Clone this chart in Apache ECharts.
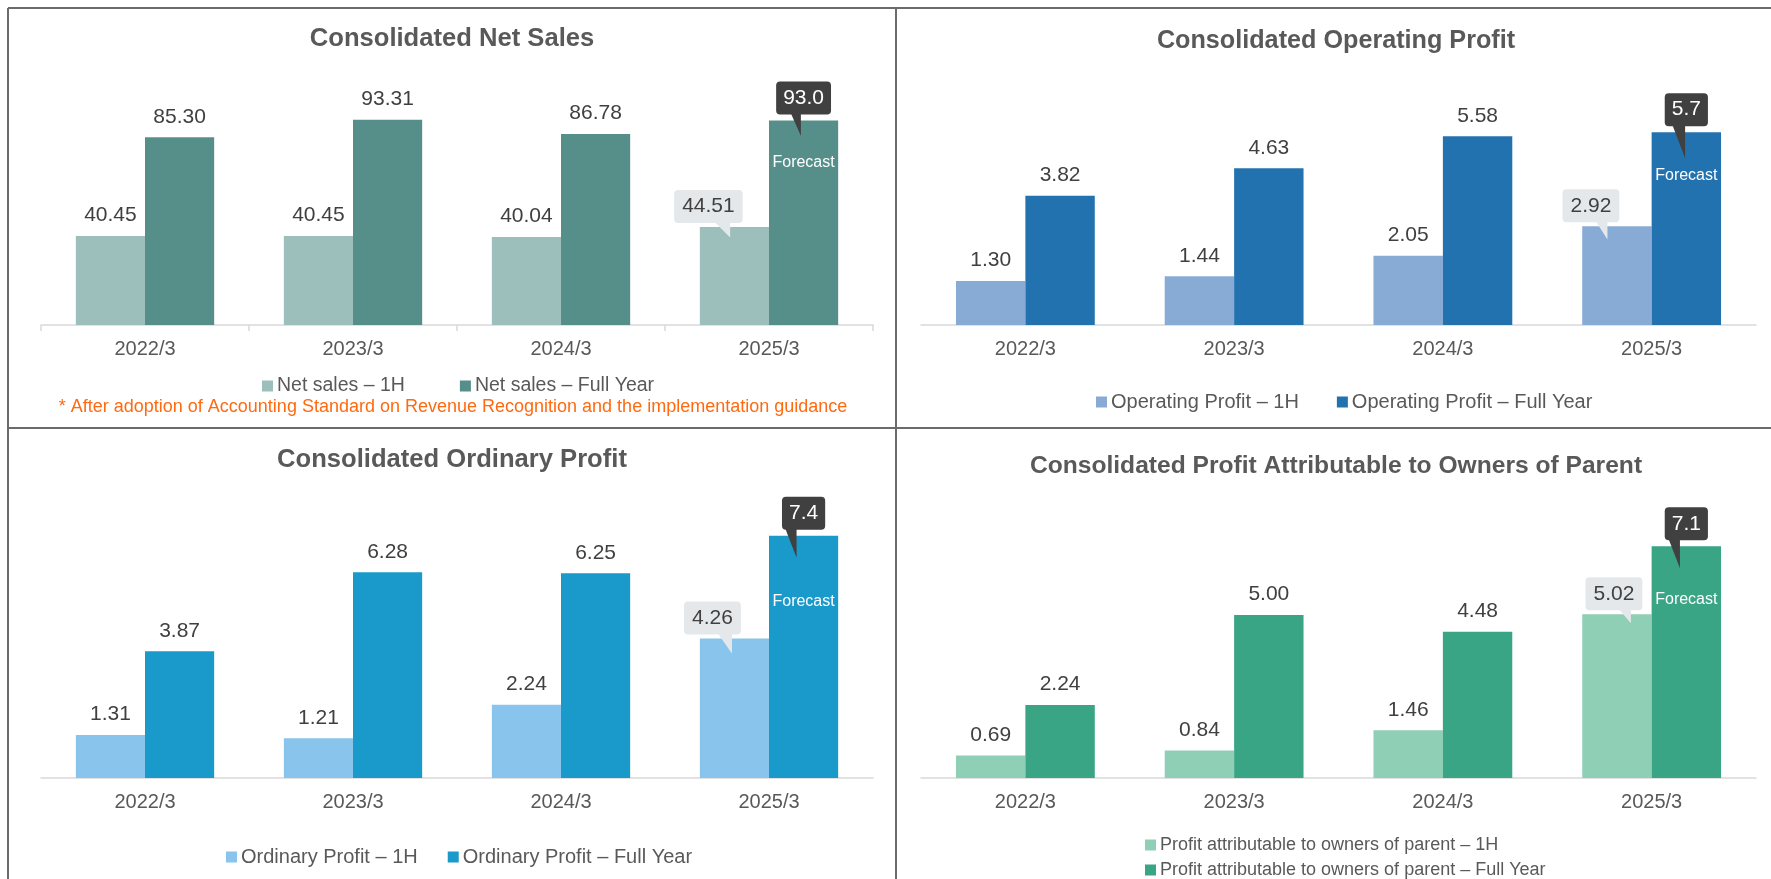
<!DOCTYPE html>
<html>
<head>
<meta charset="utf-8">
<script src="https://cdn.jsdelivr.net/npm/echarts@6/dist/echarts.min.js"></script>
<style>
  html, body { margin: 0; padding: 0; background: #fff; }
  #chart { width: 1771px; height: 879px; }
</style>
</head>
<body>
<div id="chart"></div>
<script>
// Fiscal years (March year-end)
const categories = ['2022/3', '2023/3', '2024/3', '2025/3'];

// Consolidated results, billions of yen; last full-year value is the forecast
const netSales1H = [40.45, 40.45, 40.04, 44.51];
const netSalesFY = [85.30, 93.31, 86.78, 93.0];
const opProfit1H = [1.30, 1.44, 2.05, 2.92];
const opProfitFY = [3.82, 4.63, 5.58, 5.7];
const ordProfit1H = [1.31, 1.21, 2.24, 4.26];
const ordProfitFY = [3.87, 6.28, 6.25, 7.4];
const ownersProfit1H = [0.69, 0.84, 1.46, 5.02];
const ownersProfitFY = [2.24, 5.00, 4.48, 7.1];

const titles = [
  'Consolidated Net Sales',
  'Consolidated Operating Profit',
  'Consolidated Ordinary Profit',
  'Consolidated Profit Attributable to Owners of Parent'
];
const seriesNames = [
  ['Net sales – 1H', 'Net sales – Full Year'],
  ['Operating Profit – 1H', 'Operating Profit – Full Year'],
  ['Ordinary Profit – 1H', 'Ordinary Profit – Full Year'],
  ['Profit attributable to owners of parent – 1H', 'Profit attributable to owners of parent – Full Year']
];
const forecastText = 'Forecast';
const noteText = '* After adoption of Accounting Standard on Revenue Recognition and the implementation guidance';

const values = [
  [netSales1H, netSalesFY],
  [opProfit1H, opProfitFY],
  [ordProfit1H, ordProfitFY],
  [ownersProfit1H, ownersProfitFY]
];

const FONT = 'Liberation Sans, Arial, sans-serif';
const TEXT_DARK = '#404040';
const TEXT_GREY = '#595959';

// Layout and styling of the four panels
// tail: [tipX, tipY, width, height] relative to the bar's top centre
const panels = [
  { grid: { left: 41, width: 832, top: 105, height: 220 }, yMax: 100,
    colors: ['#9CBFBC', '#568F8A'], title: [452, 39], titleSize: 25.6,
    legend: { left: 257, top: 371, orient: 'horizontal', itemGap: 55, fontSize: 19.5, height: 30 }, axisTick: true,
    boxShift: -26, tailFY: [-2.7, 15.7, 11, 25], tailH: [-4.3, 10.4, 17, 17], forecastDy: 42 },
  { grid: { left: 921, width: 835, top: 122, height: 203 }, yMax: 6,
    colors: ['#88ABD6', '#2372B0'], title: [1336, 41.5], titleSize: 25.2,
    legend: { left: 1091, top: 387, orient: 'horizontal', itemGap: 38, fontSize: 20, height: 30 }, axisTick: false,
    boxShift: -26, tailFY: [-1.2, 26, 13, 34], tailH: [-9.5, 13.3, 12, 19], forecastDy: 43 },
  { grid: { left: 41, width: 832, top: 516, height: 262 }, yMax: 8,
    colors: ['#88C4EB', '#199ACA'], title: [452, 459.5], titleSize: 25.6,
    legend: { left: 221, top: 842, orient: 'horizontal', itemGap: 30, fontSize: 20, height: 30 }, axisTick: false,
    boxShift: -22, tailFY: [-7, 22, 12, 31], tailH: [-2.5, 15, 14, 20], forecastDy: 66 },
  { grid: { left: 921, width: 835, top: 517, height: 261 }, yMax: 8,
    colors: ['#8FCFB5', '#39A585'], title: [1336, 466], titleSize: 24.6,
    legend: { left: 1140, top: 831, orient: 'vertical', itemGap: 7, fontSize: 18, height: 80 }, axisTick: false,
    boxShift: -3, tailFY: [-6.4, 22, 12, 31], tailH: [14, 9, 12, 14], forecastDy: 53 }
];

const TAIL_PATH = 'path://M0 0L10 0L10 10Z';

function tailPoint(cat, val, tail, color) {
  const [tx, ty, w, h] = tail;
  return {
    coord: [cat, val],
    symbol: TAIL_PATH,
    symbolSize: [w, h],
    symbolKeepAspect: false,
    symbolOffset: [tx - w / 2, ty - h / 2],
    itemStyle: { color: color },
    label: { show: false }
  };
}

const grids = [], xAxes = [], yAxes = [], series = [], legends = [], graphics = [];

panels.forEach((p, i) => {
  grids.push(Object.assign({ outerBoundsMode: 'none', containLabel: false }, p.grid));
  xAxes.push({
    type: 'category', gridIndex: i, data: categories,
    axisLine: { show: true, lineStyle: { color: '#D9D9D9', width: 1.5 } },
    axisTick: { show: p.axisTick, length: 6, lineStyle: { color: '#D9D9D9', width: 1.5 } },
    axisLabel: { color: TEXT_GREY, fontSize: 20, fontFamily: FONT, margin: 14 }
  });
  yAxes.push({ type: 'value', gridIndex: i, min: 0, max: p.yMax, show: false, splitLine: { show: false } });

  const last = categories.length - 1;
  const [h1, fy] = values[i];

  // First-half bars, last one carries a light callout
  series.push({
    name: seriesNames[i][0], type: 'bar', xAxisIndex: i, yAxisIndex: i,
    barGap: '0%', barCategoryGap: '33.5%',
    itemStyle: { color: p.colors[0] },
    label: {
      show: true, position: 'top', distance: 10, color: TEXT_DARK, fontSize: 21, fontFamily: FONT,
      formatter: prm => Number(prm.value).toFixed(2)
    },
    data: h1.map((v, k) => k === last ? {
      value: v,
      label: { backgroundColor: '#E5E8EB', borderRadius: 4, padding: [6, 8, 6, 8], distance: 4, offset: [p.boxShift, 0] }
    } : v),
    markPoint: { silent: true, animation: false, data: [tailPoint(categories[last], h1[last], p.tailH, '#E5E8EB')] }
  });

  // Full-year bars, last one is the forecast with a dark callout
  series.push({
    name: seriesNames[i][1], type: 'bar', xAxisIndex: i, yAxisIndex: i,
    barGap: '0%', barCategoryGap: '33.5%',
    itemStyle: { color: p.colors[1] },
    label: {
      show: true, position: 'top', distance: 10, color: TEXT_DARK, fontSize: 21, fontFamily: FONT,
      formatter: prm => prm.dataIndex === last ? Number(prm.value).toFixed(1) : Number(prm.value).toFixed(2)
    },
    data: fy.map((v, k) => k === last ? {
      value: v,
      label: { color: '#FFFFFF', backgroundColor: '#404040', borderRadius: 4, padding: [6, 7, 6, 7], distance: 6 }
    } : v),
    markPoint: {
      silent: true, animation: false,
      data: [
        tailPoint(categories[last], fy[last], p.tailFY, '#404040'),
        {
          coord: [categories[last], fy[last]], symbol: 'rect', symbolSize: [2, 2],
          itemStyle: { color: 'rgba(0,0,0,0)' },
          label: { show: true, position: 'inside', formatter: forecastText, color: '#FFFFFF',
                   fontSize: 16, fontFamily: FONT, offset: [0, p.forecastDy] }
        }
      ]
    }
  });

  legends.push({
    data: seriesNames[i], left: p.legend.left, top: p.legend.top, orient: p.legend.orient,
    height: p.legend.height, width: 700,
    itemGap: p.legend.itemGap, itemWidth: 11, itemHeight: 11, icon: 'rect',
    textStyle: { color: TEXT_GREY, fontSize: p.legend.fontSize, fontFamily: FONT, padding: [0, 0, 0, -1] },
    selectedMode: false
  });

  graphics.push({
    type: 'text', silent: true,
    style: {
      text: titles[i], x: p.title[0], y: p.title[1],
      fill: TEXT_GREY, font: 'bold ' + p.titleSize + 'px ' + FONT,
      align: 'center', verticalAlign: 'middle'
    }
  });
});

graphics.push({
  type: 'text', silent: true,
  style: { text: noteText, x: 453, y: 407, fill: '#FF6A10', font: '18px ' + FONT, align: 'center', verticalAlign: 'middle' }
});

// Panel frame lines
const frame = [
  [8, 8, 1771, 8], [8, 8, 8, 879], [896, 8, 896, 879], [8, 428, 1771, 428]
];
frame.forEach(f => graphics.push({
  type: 'line', silent: true,
  shape: { x1: f[0], y1: f[1], x2: f[2], y2: f[3] },
  style: { stroke: '#6B6B6B', lineWidth: 2 }
}));

const chart = echarts.init(document.getElementById('chart'), null, { renderer: 'canvas' });
chart.setOption({
  animation: false,
  backgroundColor: '#FFFFFF',
  textStyle: { fontFamily: FONT },
  grid: grids, xAxis: xAxes, yAxis: yAxes, series: series, legend: legends,
  graphic: graphics
});
</script>
</body>
</html>
